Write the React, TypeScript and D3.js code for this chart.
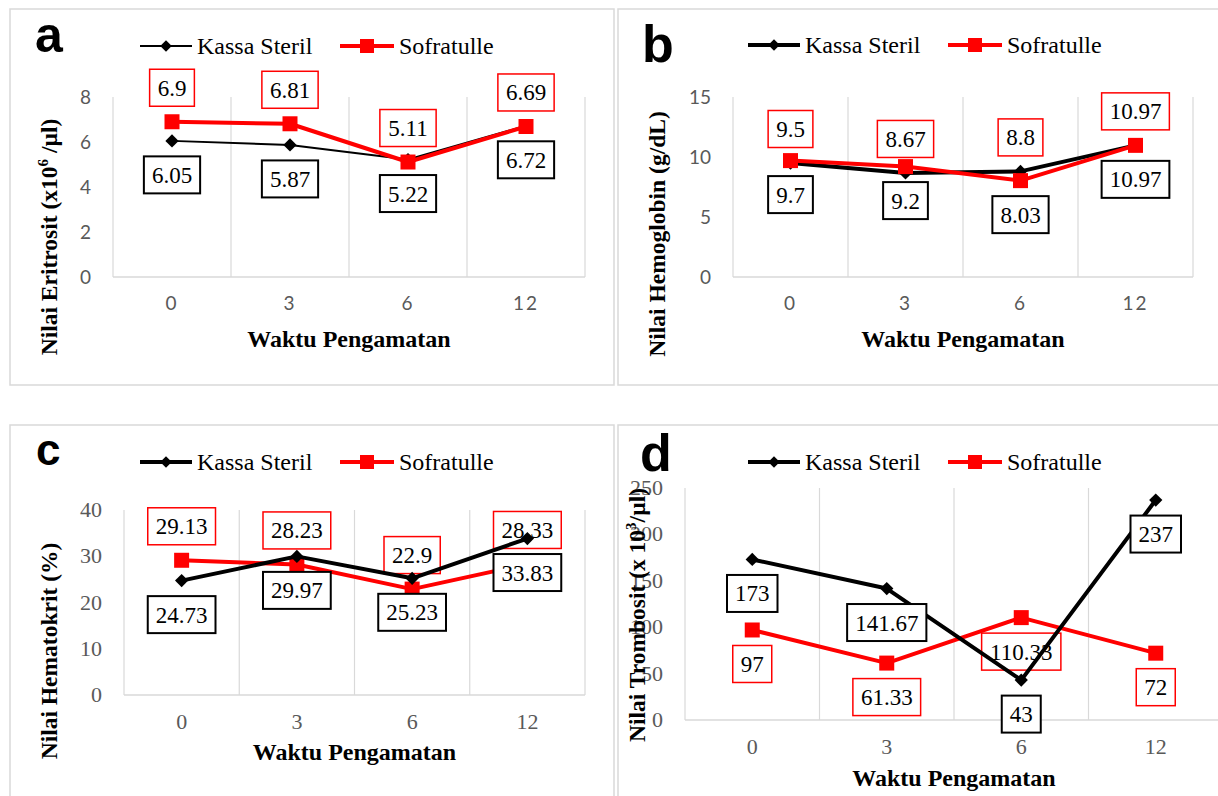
import React from 'react';
import * as d3 from 'd3';

// observation times (x categories)
const categories = ['0', '3', '6', '12'];
const legendNames = ['Kassa Steril', 'Sofratulle'];

// a - Eritrosit
const eritrositKassa = [6.05, 5.87, 5.22, 6.72];
const eritrositSofra = [6.9, 6.81, 5.11, 6.69];
const eritrositTicks = [0, 2, 4, 6, 8];

// b - Hemoglobin
const hemoglobinKassa = [9.5, 8.67, 8.8, 10.97];
const hemoglobinSofra = [9.7, 9.2, 8.03, 10.97];
const hemoglobinTicks = [0, 5, 10, 15];

// c - Hematokrit
const hematokritKassa = [24.73, 29.97, 25.23, 33.83];
const hematokritSofra = [29.13, 28.23, 22.9, 28.33];
const hematokritTicks = [0, 10, 20, 30, 40];

// d - Trombosit
const trombositKassa = [173, 141.67, 43, 237];
const trombositSofra = [97, 61.33, 110.33, 72];
const trombositTicks = [0, 50, 100, 150, 200, 250];

const SERIF = '"Liberation Serif", "Times New Roman", serif';
const SANS = 'Lato, "Open Sans", sans-serif';
const LETTER = '"Liberation Sans", Arial, sans-serif';
const RED = '#ff0000';
const GRID = '#d9d9d9';
const TICK = '#595959';

type Marker = 'diamond' | 'square';

interface SeriesCfg {
  values: number[];
  color: string;
  marker: Marker;
  lineWidth: number;
  labelPos: 'above' | 'below';
  labelColor: string;
}

interface PanelCfg {
  letter: string;
  letterX: number;
  letterY: number;
  letterSize: number;
  frame: { x: number; y: number; w: number; h: number };
  plot: { left: number; right: number; top: number; bottom: number };
  ticks: number[];
  tickFont: 'sans' | 'serif';
  xTickY: number;
  xTitleY: number;
  yTitle: [string, string, string];
  yTitleX: number;
  yTitleY: number;
  legendX: number;
  legendY: number;
  legendKassaWidth: number;
  series: SeriesCfg[]; // in draw order
}

function labelWidth(s: string, size: number) {
  let w = 0;
  for (const ch of s) w += ch === '.' ? 0.25 : 0.5;
  return w * size;
}

function markerPath(m: Marker, big: boolean) {
  if (m === 'diamond') return d3.symbol(d3.symbolDiamond2, big ? 112 : 84)()!;
  return d3.symbol(d3.symbolSquare, big ? 225 : 196)()!;
}

const kassa = (values: number[], lineWidth: number, labelPos: 'above' | 'below', labelColor: string): SeriesCfg => ({
  values, color: '#000', marker: 'diamond', lineWidth, labelPos, labelColor,
});
const sofra = (values: number[], labelPos: 'above' | 'below', labelColor: string): SeriesCfg => ({
  values, color: RED, marker: 'square', lineWidth: 4, labelPos, labelColor,
});

const panels: PanelCfg[] = [
  {
    letter: 'a', letterX: 35, letterY: 52, letterSize: 50,
    frame: { x: 10, y: 9, w: 604, h: 376 },
    plot: { left: 113, right: 585, top: 97, bottom: 277 },
    ticks: eritrositTicks, tickFont: 'sans', xTickY: 310, xTitleY: 347,
    yTitle: ['Nilai Eritrosit (x10', '6', ' /µl)'], yTitleX: 57, yTitleY: 237,
    legendX: 140, legendY: 46, legendKassaWidth: 2,
    series: [kassa(eritrositKassa, 2, 'below', '#000'), sofra(eritrositSofra, 'above', RED)],
  },
  {
    letter: 'b', letterX: 642, letterY: 62, letterSize: 52,
    frame: { x: 618, y: 9, w: 640, h: 376 },
    plot: { left: 733, right: 1193, top: 97, bottom: 277 },
    ticks: hemoglobinTicks, tickFont: 'sans', xTickY: 310, xTitleY: 347,
    yTitle: ['Nilai Hemoglobin (g/dL)', '', ''], yTitleX: 665, yTitleY: 234,
    legendX: 748, legendY: 45, legendKassaWidth: 4,
    series: [kassa(hemoglobinKassa, 4, 'above', RED), sofra(hemoglobinSofra, 'below', '#000')],
  },
  {
    letter: 'c', letterX: 36, letterY: 465, letterSize: 44,
    frame: { x: 10, y: 425, w: 604, h: 420 },
    plot: { left: 124, right: 585, top: 510, bottom: 695 },
    ticks: hematokritTicks, tickFont: 'serif', xTickY: 729, xTitleY: 760,
    yTitle: ['Nilai Hematokrit (%)', '', ''], yTitleX: 57, yTitleY: 651,
    legendX: 140, legendY: 462, legendKassaWidth: 4,
    series: [sofra(hematokritSofra, 'above', RED), kassa(hematokritKassa, 4, 'below', '#000')],
  },
  {
    letter: 'd', letterX: 640, letterY: 471, letterSize: 52,
    frame: { x: 618, y: 425, w: 640, h: 420 },
    plot: { left: 685, right: 1223, top: 488, bottom: 720 },
    ticks: trombositTicks, tickFont: 'serif', xTickY: 754, xTitleY: 786,
    yTitle: ['Nilai Trombosit (x 10', '3', '/µl)'], yTitleX: 645, yTitleY: 615,
    legendX: 748, legendY: 462, legendKassaWidth: 4,
    series: [sofra(trombositSofra, 'below', RED), kassa(trombositKassa, 4, 'below', '#000')],
  },
];

function Panel({ cfg }: { cfg: PanelCfg }) {
  const { plot } = cfg;
  const x = d3.scaleBand<string>().domain(categories).range([plot.left, plot.right]);
  const y = d3
    .scaleLinear()
    .domain([0, cfg.ticks[cfg.ticks.length - 1]])
    .range([plot.bottom, plot.top]);
  const cx = (i: number) => x(categories[i])! + x.bandwidth() / 2;
  const edges = [...categories.map((c) => x(c)!), plot.right];
  const line = d3
    .line<number>()
    .x((_, i) => cx(i))
    .y((v) => y(v));

  const tickFamily = cfg.tickFont === 'sans' ? SANS : SERIF;
  const tickSize = cfg.tickFont === 'sans' ? 19 : 22;
  const labelSize = 23;

  const L = cfg.legendX;
  const ly = cfg.legendY;

  return (
    <g>
      <rect
        x={cfg.frame.x}
        y={cfg.frame.y}
        width={cfg.frame.w}
        height={cfg.frame.h}
        fill="#fff"
        stroke={GRID}
        strokeWidth={1.5}
      />
      {/* vertical gridlines at category boundaries */}
      {edges.map((e, i) => (
        <line key={i} x1={e} x2={e} y1={plot.top} y2={plot.bottom} stroke={GRID} strokeWidth={1.2} />
      ))}
      <line x1={plot.left} x2={plot.right} y1={plot.bottom} y2={plot.bottom} stroke={GRID} strokeWidth={1.5} />

      {/* y ticks */}
      {cfg.ticks.map((t) => (
        <text
          key={t}
          x={plot.left - 22}
          y={y(t) + 7}
          textAnchor="end"
          fontFamily={tickFamily}
          fontSize={tickSize}
          fill={TICK}
        >
          {t}
        </text>
      ))}
      {/* x ticks */}
      {categories.map((c, i) => (
        <text
          key={c}
          x={cx(i)}
          y={cfg.xTickY}
          textAnchor="middle"
          fontFamily={tickFamily}
          fontSize={tickSize}
          fill={TICK}
          letterSpacing={cfg.tickFont === 'sans' ? 2 : 0}
        >
          {c}
        </text>
      ))}

      {/* series: line, markers, labels */}
      {cfg.series.map((s, si) => (
        <g key={si}>
          <path
            d={line(s.values)!}
            fill="none"
            stroke={s.color}
            strokeWidth={s.lineWidth}
            strokeLinejoin="round"
          />
          {s.values.map((v, i) => (
            <path
              key={i}
              d={markerPath(s.marker, true)}
              transform={`translate(${cx(i)},${y(v)})`}
              fill={s.color}
            />
          ))}
          {s.values.map((v, i) => {
            const txt = String(v);
            const w = labelWidth(txt, labelSize) + 16;
            const h = 37;
            const cy = y(v) + (s.labelPos === 'above' ? -34 : 34);
            return (
              <g key={'l' + i}>
                <rect
                  x={cx(i) - w / 2}
                  y={cy - h / 2}
                  width={w}
                  height={h}
                  fill="#fff"
                  stroke={s.labelColor}
                  strokeWidth={s.labelColor === RED ? 1.5 : 2}
                />
                <text x={cx(i)} y={cy + 8} textAnchor="middle" fontFamily={SERIF} fontSize={labelSize} fill="#000">
                  {txt}
                </text>
              </g>
            );
          })}
        </g>
      ))}

      {/* axis titles */}
      <text
        x={(plot.left + plot.right) / 2}
        y={cfg.xTitleY}
        textAnchor="middle"
        fontFamily={SERIF}
        fontWeight="bold"
        fontSize={24}
      >
        Waktu Pengamatan
      </text>
      <text
        transform={`translate(${cfg.yTitleX},${cfg.yTitleY}) rotate(-90)`}
        textAnchor="middle"
        fontFamily={SERIF}
        fontWeight="bold"
        fontSize={23.5}
      >
        {cfg.yTitle[0]}
        {cfg.yTitle[1] && (
          <tspan dy={-9} fontSize={15}>
            {cfg.yTitle[1]}
          </tspan>
        )}
        {cfg.yTitle[1] && <tspan dy={9}>{cfg.yTitle[2]}</tspan>}
      </text>

      {/* legend */}
      <line x1={L} x2={L + 52} y1={ly} y2={ly} stroke="#000" strokeWidth={cfg.legendKassaWidth} />
      <path d={markerPath('diamond', false)} transform={`translate(${L + 26},${ly})`} fill="#000" />
      <text x={L + 57} y={ly + 8} fontFamily={SERIF} fontSize={24}>
        {legendNames[0]}
      </text>
      <line x1={L + 200} x2={L + 254} y1={ly} y2={ly} stroke={RED} strokeWidth={4} />
      <path d={markerPath('square', false)} transform={`translate(${L + 227},${ly})`} fill={RED} />
      <text x={L + 259} y={ly + 8} fontFamily={SERIF} fontSize={24}>
        {legendNames[1]}
      </text>

      {/* panel letter */}
      <text x={cfg.letterX} y={cfg.letterY} fontFamily={LETTER} fontWeight="bold" fontSize={cfg.letterSize}>
        {cfg.letter}
      </text>
    </g>
  );
}

export default function App() {
  return (
    <svg
      width={1218}
      height={796}
      style={{ position: 'absolute', left: 0, top: 0, background: '#fff' }}
    >
      {panels.map((p) => (
        <Panel key={p.letter} cfg={p} />
      ))}
    </svg>
  );
}
